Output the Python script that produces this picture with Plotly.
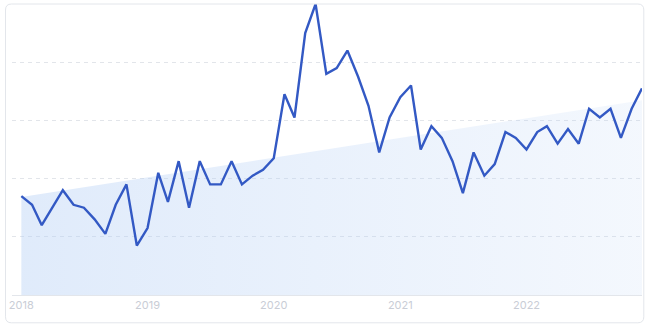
import plotly.graph_objects as go
import pandas as pd

# Monthly search-interest style index, Jan 2018 - Dec 2022
months = pd.date_range("2018-01-01", "2022-12-01", freq="MS")
values = [34, 31, 24, 30, 36, 31, 30, 26, 21, 31, 38, 17,
          23, 42, 32, 46, 30, 46, 38, 38, 46, 38, 41, 43,
          47, 69, 61, 90, 100, 76, 78, 84, 75, 65, 49, 61,
          68, 72, 50, 58, 54, 46, 35, 49, 41, 45, 56, 54,
          50, 56, 58, 52, 57, 52, 64, 61, 64, 54, 64, 71]
trend_x = [months[0], months[-1]]
trend_y = [33.7, 66.9]
year_ticks = ["2018-01-01", "2019-01-01", "2020-01-01", "2021-01-01", "2022-01-01"]
year_labels = ["2018", "2019", "2020", "2021", "2022"]

fig = go.Figure()
fig.add_trace(go.Scatter(
    x=trend_x, y=trend_y, mode="lines", line=dict(width=0),
    fill="tozeroy",
    fillgradient=dict(type="horizontal",
                      colorscale=[[0, "rgba(180,207,245,0.42)"], [1, "rgba(180,207,245,0.15)"]]),
    hoverinfo="skip", showlegend=False))
fig.add_trace(go.Scatter(
    x=months, y=values, mode="lines",
    line=dict(color="#3359c4", width=2.4),
    showlegend=False))

W, H = 649, 331
L, R, T, B = 12, 7, 4, 36
pw, ph = W - L - R, H - T - B

def px(x):
    return (x - L) / pw

def py(y):
    return (H - B - y) / ph

x0, x1, y0, y1 = px(5.5), px(643.8), py(4), py(322.8)
rx, ry = 6 / pw, 6 / ph
path = (f"M {x0+rx},{y0} L {x1-rx},{y0} Q {x1},{y0} {x1},{y0-ry} "
        f"L {x1},{y1+ry} Q {x1},{y1} {x1-rx},{y1} L {x0+rx},{y1} "
        f"Q {x0},{y1} {x0},{y1+ry} L {x0},{y0-ry} Q {x0},{y0} {x0+rx},{y0} Z")
fig.add_shape(type="path", path=path, xref="paper", yref="paper",
              line=dict(color="#e3e6eb", width=1), fillcolor="rgba(0,0,0,0)", layer="above")

fig.update_layout(
    width=W, height=H,
    margin=dict(l=L, r=R, t=T, b=B),
    paper_bgcolor="white", plot_bgcolor="white",
    font=dict(family="Inter, Roboto, sans-serif"),
    xaxis=dict(range=["2017-12-05", "2022-12-01"],
               tickvals=year_ticks, ticktext=year_labels,
               showgrid=False, showline=True, linecolor="#e3e6eb", linewidth=1,
               ticks="", tickfont=dict(size=11, color="#c9cdd6"), zeroline=False),
    yaxis=dict(range=[0, 100], tickvals=[20, 40, 60, 80], showticklabels=False,
               showgrid=True, gridcolor="#e2e5ea", griddash="4px,4px", gridwidth=1,
               zeroline=False, showline=False),
)

fig.write_html("out.html")
